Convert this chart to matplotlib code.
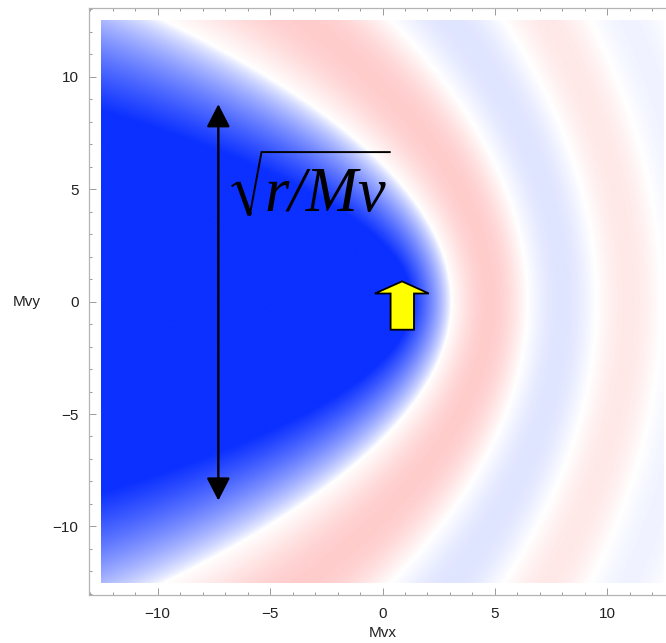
import numpy as np
import matplotlib
matplotlib.use("Agg")
import matplotlib.pyplot as plt
from matplotlib.colors import LinearSegmentedColormap
from matplotlib.patches import Polygon
from matplotlib.ticker import MultipleLocator

# Fringe pattern as a function of the parabolic coordinate u = r + x
zero_u = [6.1, 12.9, 19.0, 24.8, 30.4]      # zero crossings of the field
band_peak = [0.2, -0.13, 0.09, -0.06]       # peak value of each fringe band
core_depth = 1.55                           # depth of the shadow at u = 0
core_shape = 0.8                            # exponent of the shadow profile
x_ticks = [-10, -5, 0, 5, 10]
y_ticks = [-10, -5, 0, 5, 10]
extent_half = 12.5


def field(u):
    f = np.zeros_like(u)
    core = u < zero_u[0]
    f[core] = -core_depth * (1.0 - u[core] / zero_u[0]) ** core_shape
    for i, peak in enumerate(band_peak):
        a, b = zero_u[i], zero_u[i + 1]
        m = (u >= a) & (u < b)
        f[m] = peak * np.sin(np.pi * (u[m] - a) / (b - a))
    return f


grid = np.linspace(-extent_half, extent_half, 700)
X, Y = np.meshgrid(grid, grid)
U = np.hypot(X, Y) + X
F = field(U)

cmap = LinearSegmentedColormap.from_list(
    "bwr_m", [(0.0, "#0b30ff"), (0.5, "#ffffff"), (1.0, "#ff0000")])

W, H = 666, 643
fig = plt.figure(figsize=(W / 100, H / 100), dpi=100)
ax = fig.add_axes([89 / W, 48 / H, 587 / W, 586.8 / H])

ax.imshow(F, extent=(-extent_half, extent_half, -extent_half, extent_half),
          origin="lower", cmap=cmap, vmin=-1, vmax=1,
          interpolation="bilinear", aspect="auto")
ax.set_xlim(-13.05, 13.05)
ax.set_ylim(-13.05, 13.05)

for s in ax.spines.values():
    s.set_color("#b4b4b4")
    s.set_linewidth(0.9)
ax.xaxis.set_minor_locator(MultipleLocator(1))
ax.yaxis.set_minor_locator(MultipleLocator(1))
ax.set_xticks(x_ticks)
ax.set_yticks(y_ticks)
ax.tick_params(which="both", direction="in", top=True, right=True,
               color="#9a9a9a", width=0.7)
ax.tick_params(which="major", length=5, labelsize=11, labelcolor="#222222")
ax.tick_params(which="minor", length=2.5)
ax.tick_params(axis="x", pad=9)
ax.tick_params(axis="y", pad=7.5)
for lab in ax.get_xticklabels() + ax.get_yticklabels():
    lab.set_family("Liberation Sans")

fig.text(383 / W, 1 - 633 / H, "Mvx", ha="center", va="center",
         fontsize=11, family="Liberation Sans", color="#222222")
fig.text(27 / W, 1 - 302 / H, "Mvy", ha="center", va="center",
         fontsize=11, family="Liberation Sans", color="#222222")

# Double-headed scale arrow
ax.annotate("", xy=(-7.3, 8.78), xytext=(-7.3, -8.85),
            arrowprops=dict(arrowstyle="<|-|>,head_length=0.7,head_width=0.36",
                            color="black", lw=1.7, mutation_scale=20,
                            shrinkA=0, shrinkB=0))

# Radical sign with overline
ax.plot([-6.71, -6.42], [5.13, 5.31], color="black", lw=1.4,
        solid_capstyle="butt")
ax.plot([-6.42, -5.90], [5.31, 3.85], color="black", lw=3.4,
        solid_capstyle="butt")
ax.plot([-5.90, -5.38, 0.32], [3.85, 6.65, 6.65], color="black", lw=1.4,
        solid_joinstyle="miter")
ax.text(-5.25, 4.05, "r/Mv", ha="left", va="baseline", fontsize=45,
        family="Liberation Serif", style="italic", color="black")

# Yellow block arrow
ax.add_patch(Polygon([(0.36, -1.25), (1.40, -1.25), (1.40, 0.36),
                      (2.06, 0.36), (0.87, 0.90), (-0.34, 0.36),
                      (0.36, 0.36)], closed=True, facecolor="#ffff00",
                     edgecolor="black", lw=1.3, joinstyle="miter"))

fig.savefig("out.png", dpi=100)
